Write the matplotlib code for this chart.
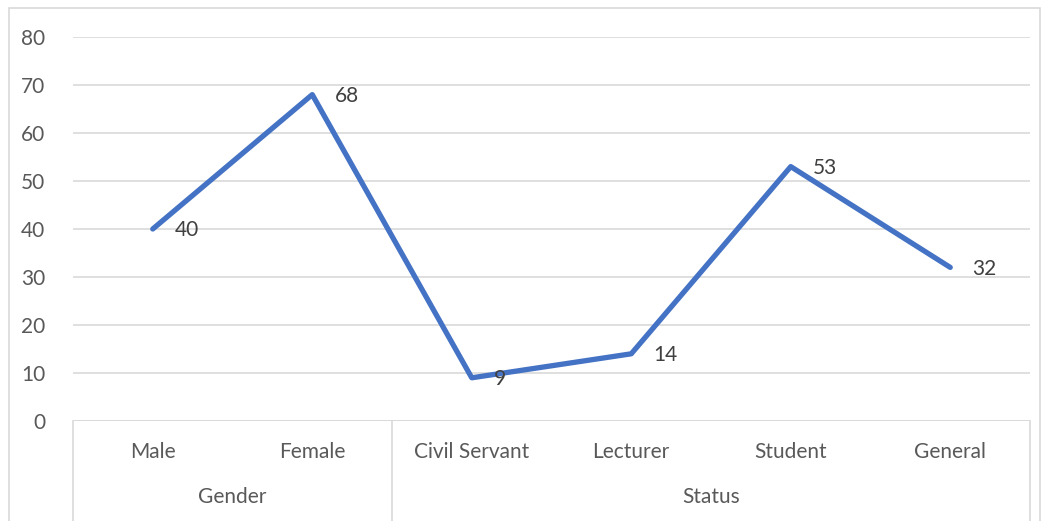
import matplotlib.pyplot as plt
from matplotlib.patches import Rectangle
from matplotlib.lines import Line2D
import matplotlib.transforms as mtransforms

categories = ["Male", "Female", "Civil Servant", "Lecturer", "Student", "General"]
values = [40, 68, 9, 14, 53, 32]
groups = ["Gender", "Status"]
group_sizes = [2, 4]
yticks = [0, 10, 20, 30, 40, 50, 60, 70, 80]

plt.rcParams['font.family'] = ['Lato', 'DejaVu Sans']
text_col = '#595959'
grid_col = '#D9D9D9'
fs = 15

fig = plt.figure(figsize=(10.46, 5.21), dpi=100)
ax = fig.add_axes([73/1046, 1-421/521, (1030-73)/1046, (421-37)/521])

x = list(range(len(categories)))
ax.plot(x, values, color='#4472C4', linewidth=3.8, solid_capstyle='round', solid_joinstyle='round', zorder=3)

# data labels
for xi, v in zip(x, values):
    ax.annotate(str(v), (xi, v), xytext=(16, -1), textcoords='offset points',
                ha='left', va='center', fontsize=fs, color='#404040', zorder=4)

ax.set_xlim(-0.5, len(categories)-0.5)
ax.set_ylim(0, 80)
ax.set_yticks(yticks)
ax.tick_params(axis='y', length=0, labelsize=fs, labelcolor=text_col, pad=20)
ax.set_xticks([])
ax.grid(axis='y', color=grid_col, linewidth=1.2)
ax.set_axisbelow(True)
for s in ax.spines.values():
    s.set_visible(False)

# multi-level category axis
trans = mtransforms.blended_transform_factory(ax.transData, fig.transFigure)
y_axis = 1-421/521
y_bot = 0.0
ax.axhline(0, color=grid_col, linewidth=1.2, zorder=1)
bounds = [-0.5]
for n in group_sizes:
    bounds.append(bounds[-1] + n)
for b in bounds:
    fig.add_artist(Line2D([b, b], [y_bot, y_axis], transform=trans, color=grid_col, linewidth=1.2))
for xi, c in zip(x, categories):
    fig.text(xi, 1-452/521, c, transform=trans, ha='center', va='center', fontsize=fs, color=text_col)
for i, g in enumerate(groups):
    mid = (bounds[i] + bounds[i+1]) / 2
    fig.text(mid, 1-497/521, g, transform=trans, ha='center', va='center', fontsize=fs, color=text_col)

# chart border
fig.add_artist(Rectangle((9/1046, -0.01), (1040-9)/1046, 1-8/521+0.01, transform=fig.transFigure,
                         fill=False, edgecolor=grid_col, linewidth=1.2))

fig.savefig('out.png', dpi=100)
